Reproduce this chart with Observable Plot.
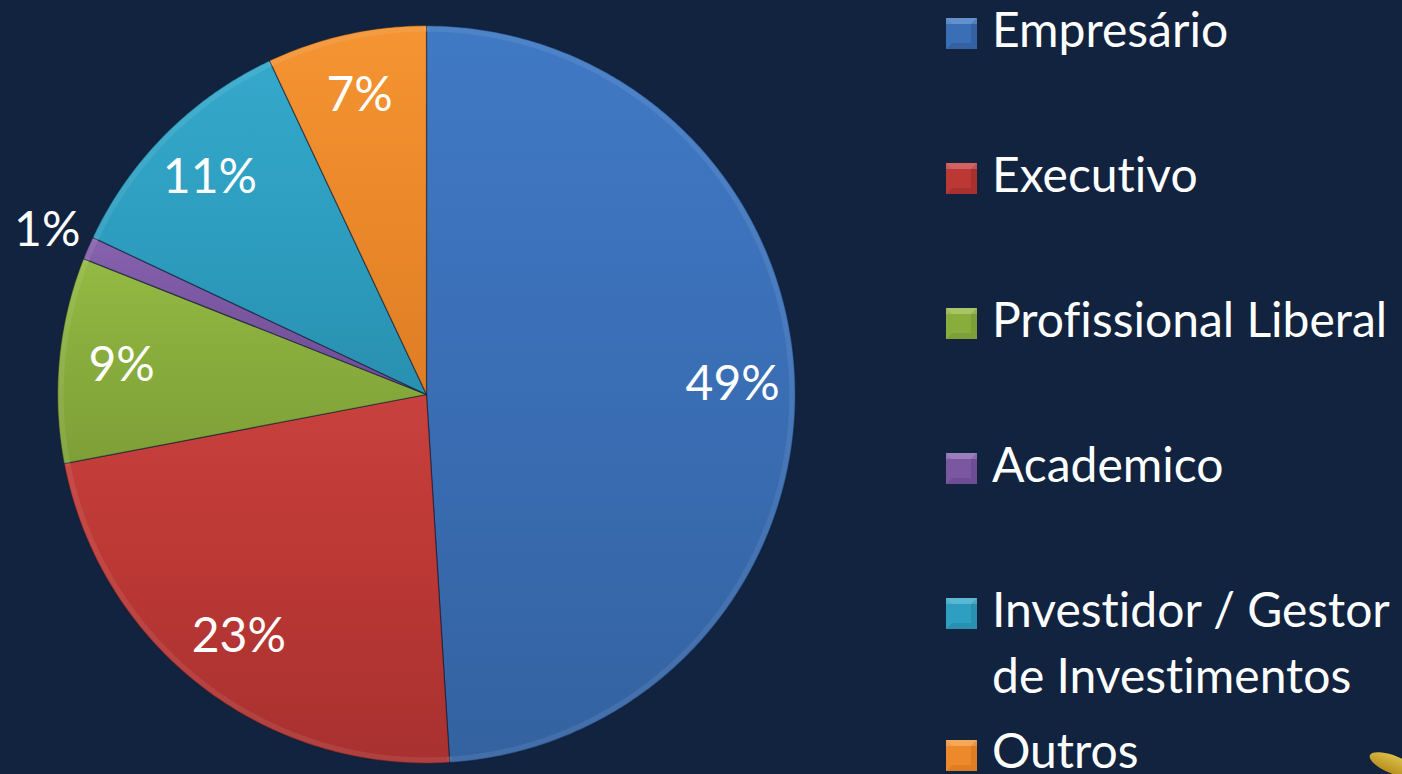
<!DOCTYPE html>
<html><head><meta charset="utf-8">
<script src="https://cdn.jsdelivr.net/npm/d3@7"></script>
<script src="https://cdn.jsdelivr.net/npm/@observablehq/plot@0.6"></script>
<style>
html,body{margin:0;padding:0;background:#12233f;overflow:hidden}
#wrap{position:relative;width:1402px;height:774px;background:#12233f;overflow:hidden}
#chart{position:absolute;left:0;top:0}
#legend{position:absolute;left:0;top:0}
text{font-variant-ligatures:none;font-feature-settings:"liga" 0,"clig" 0}
#deco{position:absolute;left:1368px;top:756px;width:52px;height:18px;border-radius:50%;
  background:linear-gradient(180deg,#f2d046,#c99a1c);transform:rotate(22deg);opacity:.9}
</style></head><body><div id="wrap"><div id="chart"></div><svg id="legend" width="1402" height="774"></svg><div id="deco"></div></div>
<script>
// ---- data ----
const categories = ["Empresário", "Executivo", "Profissional Liberal", "Academico", "Investidor / Gestor de Investimentos", "Outros"];
const legendLines = [["Empresário"], ["Executivo"], ["Profissional Liberal"], ["Academico"], ["Investidor / Gestor", "de Investimentos"], ["Outros"]];
const values = [49, 23, 9, 1, 11, 7];
const labels = ["49%", "23%", "9%", "1%", "11%", "7%"];
const colorsTop = ["#4079c4", "#c8413d", "#95b944", "#8762ae", "#35a9cb", "#f59433"];
const colorsMid = ["#3a6fb6", "#bb3835", "#89ad3d", "#7b57a2", "#2e9fc1", "#ec8a2b"];
const colorsBot = ["#3462a1", "#a83130", "#7e9f37", "#6d4d93", "#2990b0", "#de7d24"];

const data = categories.map((c, i) => ({cat: c, value: values[i], label: labels[i]}));
const arcs = d3.pie().sort(null).value(d => d.value)(data);

const slicePts = [];
const rimPts = [];
const labelPts = [];
for (const a of arcs) {
  const c = a.data.cat;
  const n = Math.max(3, Math.ceil((a.endAngle - a.startAngle) / (Math.PI / 360)));
  slicePts.push({cat: c, x: 0, y: 0});
  for (let k = 0; k <= n; k++) {
    const t = a.startAngle + (a.endAngle - a.startAngle) * k / n;
    slicePts.push({cat: c, x: Math.sin(t), y: Math.cos(t)});
    rimPts.push({cat: c, x: 0.99 * Math.sin(t), y: 0.99 * Math.cos(t)});
  }
  const m = (a.startAngle + a.endAngle) / 2;
  const rf = a.data.value < 2 ? 1.12 : 0.83;
  labelPts.push({x: rf * Math.sin(m), y: rf * Math.cos(m), text: a.data.label});
}

const plot = Plot.plot({
  width: 1402, height: 774,
  marginLeft: 57, marginRight: 607, marginTop: 25, marginBottom: 11,
  x: {domain: [-1, 1], axis: null},
  y: {domain: [-1, 1], axis: null},
  color: {domain: categories, range: categories.map((_, i) => `url(#sg${i})`)},
  style: {background: "transparent", color: "white", overflow: "visible"},
  marks: [
    Plot.line(slicePts, {x: "x", y: "y", z: "cat", fill: "cat", stroke: "#0d1a30", strokeOpacity: 0.55, strokeWidth: 1.2, curve: "linear-closed"}),
    Plot.line(rimPts, {x: "x", y: "y", z: "cat", stroke: "white", strokeOpacity: 0.08, strokeWidth: 5}),
    Plot.text(labelPts, {x: "x", y: "y", text: "text", fill: "white", fontSize: 48, fontFamily: "Lato, 'Open Sans', sans-serif"})
  ]
});

const defs = d3.select(plot).insert("defs", ":first-child");
categories.forEach((_, i) => {
  const g = defs.append("linearGradient").attr("id", `sg${i}`).attr("x1", 0).attr("y1", 0).attr("x2", 0).attr("y2", 1);
  g.append("stop").attr("offset", "0%").attr("stop-color", colorsTop[i]);
  g.append("stop").attr("offset", "45%").attr("stop-color", colorsMid[i]);
  g.append("stop").attr("offset", "100%").attr("stop-color", colorsBot[i]);
});
document.getElementById("chart").appendChild(plot);

// ---- legend ----
const lg = d3.select("#legend");
const step = 145, sz = 31, lx = 946, tx = 992;
legendLines.forEach((lines, i) => {
  const y0 = Math.min(18 + i * step, 740);
  const g = lg.append("g").attr("transform", `translate(${lx},${y0})`);
  const b = 6;
  g.append("rect").attr("width", sz).attr("height", sz).attr("fill", colorsMid[i]);
  g.append("polygon").attr("points", `0,0 ${sz},0 ${sz - b},${b} ${b},${b}`).attr("fill", colorsTop[i]);
  g.append("polygon").attr("points", `0,${sz} ${sz},${sz} ${sz - b},${sz - b} ${b},${sz - b}`).attr("fill", colorsBot[i]);
  g.append("polygon").attr("points", `0,0 ${b},${b} ${b},${sz - b} 0,${sz}`).attr("fill", colorsMid[i]);
  g.append("polygon").attr("points", `${sz},0 ${sz - b},${b} ${sz - b},${sz - b} ${sz},${sz}`).attr("fill", colorsBot[i]);
  g.append("rect").attr("x", 0).attr("y", 0).attr("width", sz).attr("height", b).attr("fill", "white").attr("opacity", 0.18);
  lines.forEach((t, j) => {
    const base = Math.min(47 + i * step + j * 66, 768);
    lg.append("text").attr("x", tx).attr("y", base)
      .attr("fill", "white").attr("font-size", 48).attr("font-family", "Lato, 'Open Sans', sans-serif").text(t);
  });
});
</script></body></html>
